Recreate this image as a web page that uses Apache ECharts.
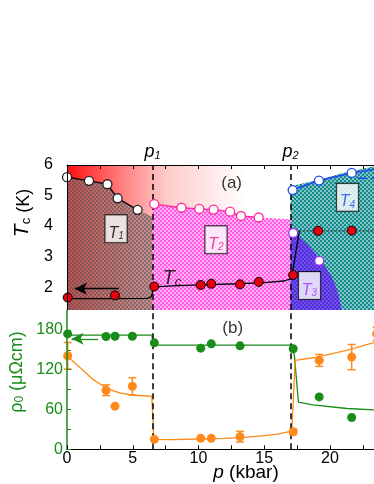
<!DOCTYPE html>
<html><head><meta charset="utf-8">
<script src="https://cdn.jsdelivr.net/npm/echarts@6/dist/echarts.min.js"></script>
<style>html,body{margin:0;padding:0;background:#fff}#c{width:374px;height:484px}</style>
</head><body><div id="c"></div>
<script>
// ---------------- data ----------------
const P1 = 6.5, P2 = 17.0;
const xTickVals = [0,2.5,5,7.5,10,12.5,15,17.5,20,22.5,25];
const xLabelVals = [0,5,10,15,20,25];
const tcLabelVals = [2,3,4,5,6];
const rhoLabelVals = [0,60,120,180];
const rhoTickVals = [0,30,60,90,120,150,180];

const T1_pts = [[0,5.6],[1.67,5.48],[3.07,5.37],[3.85,4.91],[5.37,4.53]];
const T1_fill = [[0,5.6],[1.67,5.48],[3.07,5.37],[3.85,4.91],[5.37,4.53],[6.5,4.3]];
const T2_pts = [[6.64,4.72],[8.7,4.6],[10.06,4.56],[11.15,4.54],[12.4,4.47],[13.23,4.33],[14.58,4.28]];
const T2_fill = [[6.5,4.72],[6.64,4.72],[8.7,4.6],[10.06,4.56],[11.15,4.54],[12.4,4.47],[13.23,4.33],[14.58,4.28],[17,4.22]];
const T3_pts = [[17.2,3.77],[19.18,2.86]];
const T3_fill = [[17,3.9],[17.34,3.77],[18.23,3.44],[19.3,2.9],[20.13,2.35],[20.55,1.91],[20.9,1.25]];
const T4_pts = [[17.16,5.18],[19.16,5.49],[21.65,5.74]];
const T4_line = [[17.16,5.18],[19.16,5.49],[21.65,5.74],[23.4,5.86],[25,5.92]];
const T4_fill = [[17,5.3],[19,5.5],[21,5.74],[22.5,5.88],[23.4,5.96],[25,6]];
const T4_dash = [[22.1,5.57],[25,5.57]];
const Tc_pts = [[0.05,1.66],[3.65,1.73],[6.64,2.02],[10.17,2.07],[10.97,2.11],[13.16,2.09],[14.58,2.17],[17.2,2.4],[19.1,3.84],[21.65,3.85]];
const Tc_fit = [[0,1.62],[3,1.62],[6.1,1.63],[6.4,1.68],[6.55,1.9],[6.7,2.01],[8,2.04],[10,2.07],[13,2.11],[15,2.15],[16.5,2.2],[16.95,2.26],[17.1,2.35],[17.67,3.84]];
const Tc_ext = [[17.67,3.84],[25,3.84]];
const arrowTop = [[3.95,1.95],[0.6,1.95]];

const rhoGreen = [[0.05,174],[2.97,170],[3.65,170.5],[4.97,170.5],[6.64,160.5],[10.17,152.5],[10.97,159],[13.16,156],[17.2,151.5],[19.18,79],[21.65,48]];
const greenFit = [[0,172],[6.45,172],[6.6,157],[17.15,157],[17.3,140],[17.6,71],[18.7,67],[21.3,61.5],[23.35,59.5],[25,58]];
const rhoOrange = [[0.05,141],[2.97,89],[3.65,65],[4.97,95],[6.64,15],[10.17,16.5],[10.97,16.5],[13.16,19],[17.2,26.4],[19.18,134],[21.65,139],[23.55,174]];
const orangeErr = [20,8,0,13,0,0,0,8,4,9,19,10];
const orangeFit = [[0,141],[1,123],[2,105],[3,92],[4,85],[5,81.5],[6.45,80],[6.6,15],[8,14.5],[10,15.5],[12,16.5],[13.5,18],[15,20.5],[16,23],[16.9,26.5],[17.1,28],[17.35,134],[18.73,138],[21.27,149],[23.35,161],[25,172]];
const arrowBottom = [[2.37,166.5],[0.35,166.5]];

// text anchors (data coords)
const boxLabels = [
  {at:[3.73,3.91], t:'T', s:'1', c:'#000'},
  {at:[11.33,3.55], t:'T', s:'2', c:'#f0147f'},
  {at:[18.44,2.05], t:'T', s:'3', c:'#9b30ff'},
  {at:[21.33,4.94], t:'T', s:'4', c:'#1f45f5'}
];

// ---------------- styles ----------------
const FF = 'Liberation Sans, Arial, sans-serif';
const GREEN = '#1a8c1a', ORANGE = '#ff8a1c', RED = '#e8000f';
const C_T2 = '#ff2a9d', C_T3 = '#9b30ff', C_T4 = '#1f45f5';

function checker(c1, c2, s){
  const cv = document.createElement('canvas'); cv.width = cv.height = 2*s;
  const g = cv.getContext('2d');
  if (c1) { g.fillStyle = c1; g.fillRect(0,0,2*s,2*s); }
  g.fillStyle = c2; g.fillRect(0,0,s,s); g.fillRect(s,s,s,s);
  return {image: cv, repeat: 'repeat'};
}
const LG = (stops) => ({type:'linear', x:0, y:0, x2:1, y2:0, colorStops: stops});

function areaSeries(data, color, z){
  return {type:'line', xAxisIndex:0, yAxisIndex:0, data, symbol:'none', silent:true,
    lineStyle:{width:0}, areaStyle:{color, opacity:1, origin:'start'}, z};
}
function lineSeries(data, color, width, z, xi, yi, type){
  return {type:'line', xAxisIndex:xi, yAxisIndex:yi, data, symbol:'none', silent:true,
    lineStyle:{width, color, type: type||'solid'}, z};
}
function pts(data, fill, stroke, size, z, xi, yi, bw){
  return {type:'scatter', xAxisIndex:xi, yAxisIndex:yi, data, symbol:'circle', symbolSize:size,
    itemStyle:{color:fill, borderColor:stroke, borderWidth:bw===undefined?1.3:bw, opacity:1}, z, silent:true};
}

const labelData = boxLabels.map(b => ({
  value: b.at,
  label: {show:true, position:'inside', formatter:'{t|' + b.t + '}{s|' + b.s + '}',
    backgroundColor:'#fff', borderColor:'#000', borderWidth:1, padding:[2,3,1,3],
    rich:{t:{fontFamily:FF, fontSize:16, fontStyle:'italic', color:b.c, lineHeight:24, verticalAlign:'bottom'},
          s:{fontFamily:FF, fontSize:10, fontStyle:'italic', color:b.c, lineHeight:12, verticalAlign:'bottom'}}}
}));
labelData.push({value:[7.98,2.37], label:{show:true, position:'inside', formatter:'{t|T}{s|c}',
  rich:{t:{fontFamily:FF, fontSize:20, fontStyle:'italic', color:'#000', lineHeight:26, verticalAlign:'bottom'},
        s:{fontFamily:FF, fontSize:13, fontStyle:'italic', color:'#000', lineHeight:13, verticalAlign:'bottom'}}}});
labelData.push({value:[12.52,5.41], label:{show:true, position:'inside', formatter:'(a)', fontFamily:FF, fontSize:17, color:'#000'}});

const pLabel = (n) => ({show:true, position:'end', distance:4, formatter:'{t|p}{s|' + n + '}',
  rich:{t:{fontFamily:FF, fontSize:18, fontStyle:'italic', color:'#000', lineHeight:22, verticalAlign:'bottom'},
        s:{fontFamily:FF, fontSize:11, fontStyle:'italic', color:'#000', lineHeight:12, verticalAlign:'bottom'}}});

const dashStyle = {color:'#000', width:1.5, type:[6,4]};

const chart = echarts.init(document.getElementById('c'), null, {renderer:'canvas'});
chart.setOption({
  animation:false,
  backgroundColor:'#fff',
  grid:[
    {left:67, top:165, height:145, right:-21.75, containLabel:false, outerBoundsMode:'none'},
    {left:67, top:310, height:139.3, right:-21.75, containLabel:false, outerBoundsMode:'none'}
  ],
  xAxis:[
    {type:'value', gridIndex:0, position:'top', min:0, max:25, z:10,
     axisLine:{show:true, onZero:false, lineStyle:{color:'#000', width:1}},
     axisTick:{show:true, inside:true, length:4, customValues:xTickVals, lineStyle:{color:'#000'}},
     axisLabel:{show:false}, splitLine:{show:false}},
    {type:'value', gridIndex:1, position:'bottom', min:0, max:25, z:10,
     axisLine:{show:true, onZero:false, lineStyle:{color:'#000', width:1}},
     axisTick:{show:true, inside:true, length:4, customValues:xTickVals, lineStyle:{color:'#000'}},
     axisLabel:{show:true, customValues:xLabelVals, margin:1, fontFamily:FF, fontSize:16, color:'#000', hideOverlap:false},
     splitLine:{show:false}}
  ],
  yAxis:[
    {type:'value', gridIndex:0, min:1.25, max:6, z:10,
     axisLine:{show:true, onZero:false, lineStyle:{color:'#000', width:1}},
     axisTick:{show:false},
     axisLabel:{show:true, customValues:tcLabelVals, margin:14, fontFamily:FF, fontSize:16, color:'#000'},
     splitLine:{show:false}},
    {type:'value', gridIndex:1, min:0, max:210, z:10,
     axisLine:{show:true, onZero:false, lineStyle:{color:GREEN, width:1.5}},
     axisTick:{show:true, inside:true, length:4, customValues:rhoTickVals, lineStyle:{color:GREEN}},
     axisLabel:{show:true, customValues:rhoLabelVals, margin:4, fontFamily:FF, fontSize:16, color:GREEN},
     splitLine:{show:false}}
  ],
  graphic:[
    {type:'text', x:20, y:213, rotation:Math.PI/2, z:20,
     style:{text:'{t|T}{s|c}{n| (K)}', align:'center', verticalAlign:'middle',
       rich:{t:{fontFamily:FF, fontSize:21, fontStyle:'italic', fill:'#000', lineHeight:26, verticalAlign:'bottom'},
             s:{fontFamily:FF, fontSize:13, fill:'#000', lineHeight:13, verticalAlign:'bottom'},
             n:{fontFamily:FF, fontSize:18, fill:'#000', lineHeight:26, verticalAlign:'bottom'}}}},
    {type:'text', x:14, y:372, rotation:Math.PI/2, z:20,
     style:{text:'{n|ρ}{s|0}{n| (μΩcm)}', align:'center', verticalAlign:'middle',
       rich:{n:{fontFamily:FF, fontSize:18, fill:GREEN, lineHeight:24, verticalAlign:'bottom'},
             s:{fontFamily:FF, fontSize:12, fill:GREEN, lineHeight:12, verticalAlign:'bottom'}}}},
    {type:'text', x:246, y:473, z:20,
     style:{text:'{i|p}{n| (kbar)}', align:'center', verticalAlign:'middle',
       rich:{i:{fontFamily:FF, fontSize:19, fontStyle:'italic', fill:'#000'},
             n:{fontFamily:FF, fontSize:19, fill:'#000'}}}}
  ],
  series:[
    // background gradient (top panel)
    {type:'line', xAxisIndex:0, yAxisIndex:0, data:[], symbol:'none', silent:true, z:1,
     markArea:{silent:true, itemStyle:{color:LG([{offset:0,color:'#ff1010'},{offset:0.25,color:'#ff8080'},{offset:0.45,color:'#ffcccc'},{offset:0.8,color:'#ffffff'},{offset:1,color:'#ffffff'}])},
       data:[[{coord:[0,1.25]},{coord:[P2,6]}]]}},
    // regions
    areaSeries(T1_fill, LG([{offset:0,color:'#bb5252'},{offset:1,color:'#c49090'}]), 2),
    areaSeries(T1_fill, checker(null,'rgba(70,70,70,0.45)',2), 2),
    areaSeries(T2_fill, checker('#ffb0f6','#ff5ce6',2), 2),
    areaSeries(T4_fill, checker('#80c6c6','#168a8a',2), 2),
    areaSeries(T3_fill, checker('#7050e6','#522edc',2), 3),
    // lines top
    lineSeries(T1_pts, '#000', 1.3, 4, 0, 0),
    lineSeries(T2_pts, C_T2, 1.3, 4, 0, 0),
    lineSeries(T4_line, C_T4, 1.5, 4, 0, 0),
    lineSeries(T4_dash, C_T4, 1.5, 4, 0, 0, [9,5]),
    lineSeries(Tc_fit, '#000', 1.3, 4, 0, 0),
    lineSeries(Tc_ext, '#222', 1, 4, 0, 0, [2,2]),
    // dashed p1/p2 lines + arrow (top)
    {type:'line', xAxisIndex:0, yAxisIndex:0, data:[], symbol:'none', silent:true, z:5,
     markLine:{silent:true, symbol:['none','none'], lineStyle:dashStyle,
       data:[{xAxis:P1, label:pLabel('1')},{xAxis:P2, label:pLabel('2')}]}},
    {type:'line', xAxisIndex:0, yAxisIndex:0, data:[], symbol:'none', silent:true, z:5,
     markLine:{silent:true, symbol:['none','arrow'], symbolSize:[9,12], label:{show:false},
       lineStyle:{color:'#000', width:1.3, type:'solid'},
       data:[[{coord:arrowTop[0]},{coord:arrowTop[1]}]]}},
    // points top
    pts(T1_pts, '#fff', '#222', 9, 6, 0, 0),
    pts(T2_pts, '#fff', C_T2, 9, 6, 0, 0),
    pts(T3_pts, '#fff', C_T3, 9, 6, 0, 0),
    pts(T4_pts, '#fff', C_T4, 9, 6, 0, 0),
    pts(Tc_pts, RED, '#000', 9, 6, 0, 0, 1),
    // labels top
    {type:'scatter', xAxisIndex:0, yAxisIndex:0, data:labelData, symbolSize:1, itemStyle:{color:'rgba(0,0,0,0)'}, silent:true, z:8},
    // bottom panel
    {type:'line', xAxisIndex:1, yAxisIndex:1, data:[], symbol:'none', silent:true, z:5,
     markLine:{silent:true, symbol:['none','none'], label:{show:false}, lineStyle:dashStyle,
       data:[{xAxis:P1},{xAxis:P2}]}},
    lineSeries(greenFit, GREEN, 1.3, 4, 1, 1),
    lineSeries(orangeFit, ORANGE, 1.3, 4, 1, 1),
    {type:'line', xAxisIndex:1, yAxisIndex:1, data:[], symbol:'none', silent:true, z:5,
     markLine:{silent:true, symbol:['none','arrow'], symbolSize:[9,12], label:{show:false},
       lineStyle:{color:GREEN, width:1.3, type:'solid'},
       data:[[{coord:arrowBottom[0]},{coord:arrowBottom[1]}]]}},
    {type:'custom', xAxisIndex:1, yAxisIndex:1, silent:true, z:6,
     data: rhoOrange.map((p,i)=>[p[0],p[1],orangeErr[i]]).filter(d=>d[2]>0),
     encode:{x:0, y:1},
     renderItem:function(params, api){
       const x = api.value(0), y = api.value(1), e = api.value(2);
       const t = api.coord([x, y+e]), b = api.coord([x, y-e]); const w = 4;
       const st = {stroke:ORANGE, lineWidth:1.5};
       return {type:'group', children:[
         {type:'line', shape:{x1:t[0],y1:t[1],x2:b[0],y2:b[1]}, style:st},
         {type:'line', shape:{x1:t[0]-w,y1:t[1],x2:t[0]+w,y2:t[1]}, style:st},
         {type:'line', shape:{x1:b[0]-w,y1:b[1],x2:b[0]+w,y2:b[1]}, style:st}]};
     }},
    pts(rhoGreen, GREEN, GREEN, 9, 7, 1, 1, 0),
    pts(rhoOrange, ORANGE, ORANGE, 9, 7, 1, 1, 0),
    {type:'scatter', xAxisIndex:1, yAxisIndex:1, symbolSize:1, itemStyle:{color:'rgba(0,0,0,0)'}, silent:true, z:8,
     data:[{value:[12.6,182.7], label:{show:true, position:'inside', formatter:'(b)', fontFamily:FF, fontSize:17, color:'#000'}}]}
  ]
});
</script></body></html>
